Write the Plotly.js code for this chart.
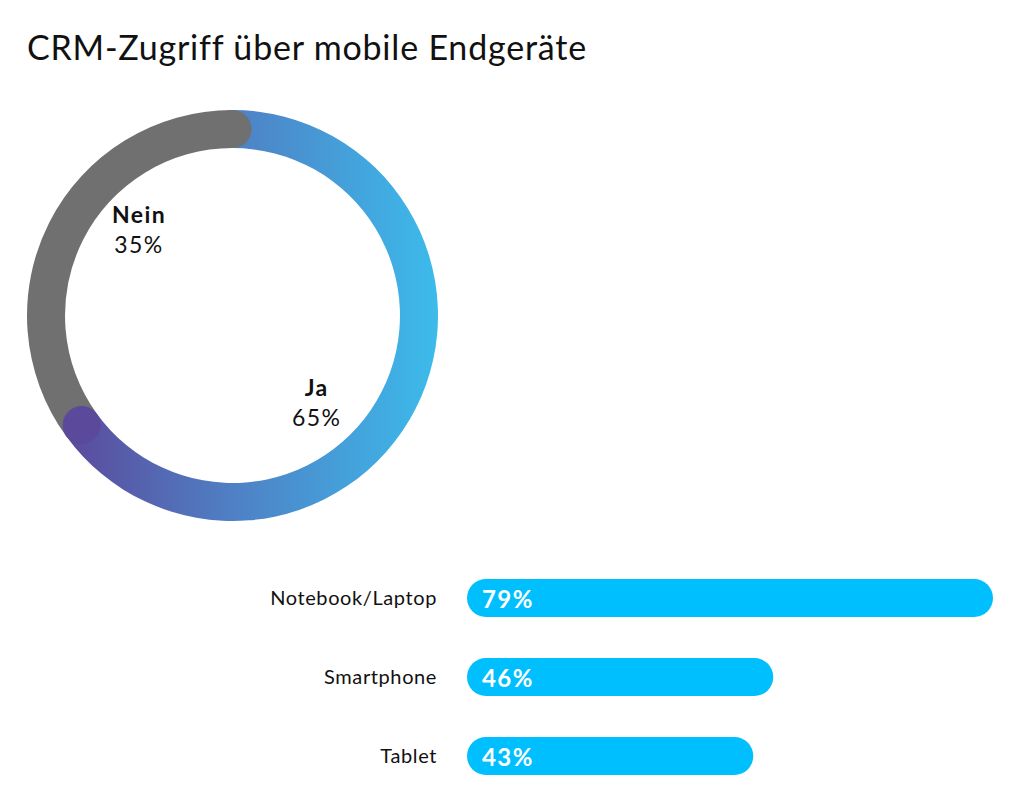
<!DOCTYPE html>
<html>
<head>
<meta charset="utf-8">
<script src="https://cdn.plot.ly/plotly-3.0.1.min.js"></script>
<style>
html,body{margin:0;padding:0;background:#fff;}
#chart{width:1024px;height:798px;}
.gtitle{letter-spacing:0.8px;}
.ytick text{letter-spacing:0.6px;}
.annotation-text{letter-spacing:1.4px;}
</style>
</head>
<body>
<div id="chart"></div>
<script>
const titleText = 'CRM-Zugriff über mobile Endgeräte';
const donutLabels = ['Ja', 'Nein'];
const donutValues = [65, 35];
const barCategories = ['Notebook/Laptop', 'Smartphone', 'Tablet'];
const barValues = [79, 46, 43];

const FONT = 'Lato, "Open Sans", sans-serif';
const W = 1024, H = 798;

const pieTrace = {
  type: 'pie',
  labels: donutLabels,
  values: donutValues,
  hole: 0.815,
  sort: false,
  direction: 'clockwise',
  rotation: 0,
  textinfo: 'none',
  hoverinfo: 'none',
  showlegend: false,
  marker: { colors: ['#4f80c5', '#707070'], line: { width: 0 } },
  domain: { x: [27 / W, 438 / W], y: [1 - 521 / H, 1 - 110 / H] }
};

const barTrace = {
  type: 'bar',
  orientation: 'h',
  x: barValues,
  y: barCategories,
  xaxis: 'x',
  yaxis: 'y',
  marker: { color: '#00bfff', cornerradius: 19, line: { width: 0 } },
  hoverinfo: 'none',
  showlegend: false,
  width: 0.48
};

// donut labels inside the hole
const donutAnnPos = [
  { x: 316 / W, y: 1 - 402 / H },
  { x: 139 / W, y: 1 - 229 / H }
];
const annotations = donutLabels.map((lab, i) => ({
  xref: 'paper', yref: 'paper',
  x: donutAnnPos[i].x, y: donutAnnPos[i].y,
  xanchor: 'center', yanchor: 'middle',
  text: '<b>' + lab + '</b><br>' + donutValues[i] + '%',
  showarrow: false,
  font: { family: FONT, size: 23, color: '#111111' }
}));
barCategories.forEach((c, i) => {
  annotations.push({
    xref: 'x', yref: 'y', x: 0, y: c,
    xanchor: 'left', yanchor: 'middle', xshift: 13,
    text: '<b>' + barValues[i] + '%</b>',
    showarrow: false,
    font: { family: FONT, size: 24, color: '#ffffff' }
  });
});

const layout = {
  width: W, height: H,
  margin: { l: 0, r: 0, t: 0, b: 0 },
  paper_bgcolor: '#ffffff',
  plot_bgcolor: '#ffffff',
  title: {
    text: titleText,
    x: 27 / W, xanchor: 'left', xref: 'container',
    y: 1 - 48 / H, yanchor: 'middle', yref: 'container',
    font: { family: FONT, size: 34, color: '#111111' }
  },
  xaxis: {
    domain: [467 / W, (467 + 526 * 80 / 79) / W],
    range: [0, 80],
    showgrid: false, zeroline: false, showline: false, showticklabels: false, ticks: ''
  },
  yaxis: {
    domain: [1 - 795.5 / H, 1 - 558.5 / H],
    autorange: 'reversed',
    showgrid: false, zeroline: false, showline: false, ticks: '',
    ticklabelstandoff: 29,
    tickfont: { family: FONT, size: 20, color: '#111111' }
  },
  annotations: annotations
};

Plotly.newPlot('chart', [pieTrace, barTrace], layout, { displayModeBar: false, staticPlot: true }).then(gd => {
  const NS = 'http://www.w3.org/2000/svg';
  const svg = gd.querySelector('.main-svg');
  let defs = svg.querySelector('defs');
  if (!defs) { defs = document.createElementNS(NS, 'defs'); svg.insertBefore(defs, svg.firstChild); }
  const grad = document.createElementNS(NS, 'linearGradient');
  grad.setAttribute('id', 'jaGrad');
  grad.setAttribute('x1', '0'); grad.setAttribute('y1', '0');
  grad.setAttribute('x2', '1'); grad.setAttribute('y2', '0');
  [['0', '#5b4a9c'], ['0.45', '#4f80c5'], ['1', '#3cbbeb']].forEach(([o, c]) => {
    const s = document.createElementNS(NS, 'stop');
    s.setAttribute('offset', o); s.setAttribute('stop-color', c);
    grad.appendChild(s);
  });
  defs.appendChild(grad);

  const slices = gd.querySelectorAll('.pielayer .slice path.surface');
  if (slices[0]) slices[0].style.fill = 'url(#jaGrad)';

  // rounded caps at slice boundaries
  const cd0 = gd.calcdata[0][0];
  const cx = cd0.cx, cy = cd0.cy, r = cd0.r, hole = pieTrace.hole;
  const rm = r * (1 + hole) / 2, rc = r * (1 - hole) / 2;
  const total = donutValues.reduce((a, b) => a + b, 0);
  const group = gd.querySelector('.pielayer .trace') || gd.querySelector('.pielayer');
  const caps = [
    { angle: 0, color: '#707070' },
    { angle: 360 * donutValues[0] / total, color: '#5b4a9c' }
  ];
  caps.forEach(cap => {
    const a = cap.angle * Math.PI / 180;
    const c = document.createElementNS(NS, 'circle');
    c.setAttribute('cx', cx + rm * Math.sin(a));
    c.setAttribute('cy', cy - rm * Math.cos(a));
    c.setAttribute('r', rc);
    c.setAttribute('fill', cap.color);
    group.appendChild(c);
  });

  // round both ends of each bar (pill shape)
  gd.querySelectorAll('.barlayer .point path').forEach(p => {
    const b = p.getBBox();
    const rr = b.height / 2;
    const x0 = b.x, x1 = b.x + b.width, y0 = b.y, y1 = b.y + b.height;
    const d = 'M' + (x0 + rr) + ',' + y0 + 'H' + (x1 - rr) +
      'A' + rr + ',' + rr + ' 0 0 1 ' + (x1 - rr) + ',' + y1 +
      'H' + (x0 + rr) +
      'A' + rr + ',' + rr + ' 0 0 1 ' + (x0 + rr) + ',' + y0 + 'Z';
    p.setAttribute('d', d);
  });
});
</script>
</body>
</html>
